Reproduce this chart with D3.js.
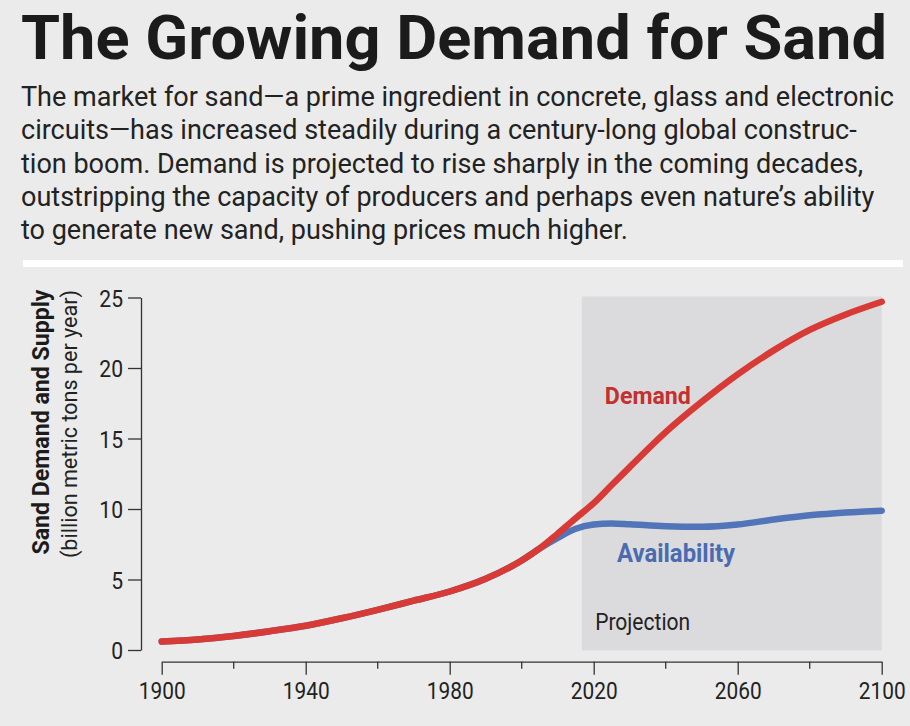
<!DOCTYPE html>
<html>
  <head>
    <meta charset="utf-8">
    <title>The Growing Demand for Sand</title>
    <script src="https://d3js.org/d3.v7.min.js"></script>
    <style>
      body { margin: 0; background: #ebebeb; }
      svg { display: block; font-family: Roboto, "Noto Sans", sans-serif; }
    </style>
  </head>
  <body>
    <div id="chart"></div>
    <script>
    // Values (billion metric tons per year)
    const years = [1900, 1910, 1920, 1930, 1940, 1950, 1960, 1970, 1980, 1990, 2000, 2005,
                   2010, 2015, 2020, 2025, 2030, 2040, 2050, 2060, 2070, 2080, 2090, 2100];
    const demand = [0.6, 0.75, 1.0, 1.33, 1.72, 2.25, 2.85, 3.5, 4.15, 5.05, 6.35, 7.2,
                    8.25, 9.35, 10.42, 11.7, 12.97, 15.45, 17.6, 19.55, 21.25, 22.7, 23.8, 24.7];
    const availability = [0.6, 0.75, 1.0, 1.33, 1.72, 2.25, 2.85, 3.5, 4.15, 5.05, 6.35, 7.2,
                          7.95, 8.6, 8.9, 8.98, 8.92, 8.78, 8.74, 8.9, 9.25, 9.55, 9.75, 9.88];
    const yTicks = [0, 5, 10, 15, 20, 25];
    const xMajorTicks = [1900, 1940, 1980, 2020, 2060, 2100];
    const xMinorTicks = [1920, 1960, 2000, 2040, 2080];
    const projectionStart = 2016.7;

    const titleText = "The Growing Demand for Sand";
    const introLines = [
      "The market for sand\u2014a prime ingredient in concrete, glass and electronic",
      "circuits\u2014has increased steadily during a century-long global construc-",
      "tion boom. Demand is projected to rise sharply in the coming decades,",
      "outstripping the capacity of producers and perhaps even nature\u2019s ability",
      "to generate new sand, pushing prices much higher."
    ];

    const W = 910, H = 726;
    const red = "#d83a35", blue = "#5274b9";

    const svg = d3.select("#chart").append("svg")
      .attr("width", W)
      .attr("height", H);

    svg.append("rect").attr("width", W).attr("height", H).attr("fill", "#ebebeb");

    // squeeze text horizontally to mimic the condensed face
    function squeeze(sel, k) {
      sel.each(function() {
        const n = this.getComputedTextLength();
        d3.select(this).attr("textLength", n * k).attr("lengthAdjust", "spacingAndGlyphs");
      });
    }

    // title: smaller face stretched upward, so its box stays inside the page
    svg.append("text")
      .attr("transform", "translate(21,58.5) scale(1,1.1)")
      .attr("font-size", 56)
      .attr("font-weight", 700)
      .attr("fill", "#1c1b1b")
      .attr("textLength", 866)
      .attr("lengthAdjust", "spacingAndGlyphs")
      .text(titleText);

    // intro text
    const intro = svg.append("g").attr("fill", "#222");
    intro.selectAll("text")
      .data(introLines)
      .join("text")
      .attr("x", 21)
      .attr("y", (d, i) => 106 + i * 33.3)
      .attr("font-size", 27)
      .text(d => d);
    const firstLen = intro.select("text").node().getComputedTextLength();
    squeeze(intro.selectAll("text"), 873 / firstLen);

    // white rule
    svg.append("rect")
      .attr("x", 23).attr("y", 260)
      .attr("width", 880).attr("height", 7)
      .attr("fill", "#ffffff");

    // scales
    const x = d3.scaleLinear().domain([1900, 2100]).range([161.7, 881.7]);
    const y = d3.scaleLinear().domain([0, 25]).range([650, 297.5]);

    // projection shade
    svg.append("rect")
      .attr("x", x(projectionStart))
      .attr("y", y(25) - 1)
      .attr("width", x(2100) - x(projectionStart))
      .attr("height", y(0) - y(25) + 1.5)
      .attr("fill", "#dbdbdd");

    // y axis
    const yAxis = svg.append("g")
      .attr("transform", "translate(141,0)")
      .call(d3.axisLeft(y).tickValues(yTicks).tickSize(13).tickSizeOuter(0).tickPadding(5));
    yAxis.select(".domain").attr("stroke", "#333").attr("stroke-width", 1.3);
    yAxis.selectAll(".tick line").attr("stroke", "#333").attr("stroke-width", 1.3);
    yAxis.selectAll(".tick text")
      .attr("font-size", 24.5)
      .attr("font-family", "Roboto, sans-serif")
      .attr("fill", "#222")
      .attr("dy", "0.36em");
    squeeze(yAxis.selectAll(".tick text"), 0.86);

    // x axis (labels drawn a bit smaller and stretched upward)
    const sy = 1.14;
    const xAxis = svg.append("g")
      .attr("transform", "translate(0,661.7)")
      .call(d3.axisBottom(x).tickValues(xMajorTicks).tickFormat(d3.format("d"))
        .tickSize(13).tickSizeOuter(0).tickPadding(7));
    xAxis.select(".domain").attr("stroke", "#333").attr("stroke-width", 1.3);
    xAxis.selectAll(".tick line").attr("stroke", "#333").attr("stroke-width", 1.3);
    xAxis.selectAll(".tick text")
      .attr("font-size", 21.5)
      .attr("font-family", "Roboto, sans-serif")
      .attr("fill", "#222")
      .attr("y", 20 / sy)
      .attr("transform", `scale(1,${sy})`);
    squeeze(xAxis.selectAll(".tick text"), 0.97);

    // minor x ticks
    svg.append("g")
      .attr("transform", "translate(0,661.7)")
      .selectAll("line")
      .data(xMinorTicks)
      .join("line")
      .attr("x1", d => x(d)).attr("x2", d => x(d))
      .attr("y1", 0).attr("y2", 7)
      .attr("stroke", "#333").attr("stroke-width", 1.3);

    // y axis title
    svg.append("text")
      .attr("transform", "translate(49,422) rotate(-90)")
      .attr("text-anchor", "middle")
      .attr("font-size", 23)
      .attr("font-weight", 700)
      .attr("fill", "#1c1b1b")
      .attr("textLength", 265)
      .attr("lengthAdjust", "spacingAndGlyphs")
      .text("Sand Demand and Supply");

    svg.append("text")
      .attr("transform", "translate(77,424) rotate(-90)")
      .attr("text-anchor", "middle")
      .attr("font-size", 22)
      .attr("fill", "#222")
      .attr("textLength", 268)
      .attr("lengthAdjust", "spacingAndGlyphs")
      .text("(billion metric tons per year)");

    // lines
    const line = d3.line()
      .x(d => x(d[0]))
      .y(d => y(d[1]))
      .curve(d3.curveMonotoneX);

    svg.append("path")
      .datum(years.map((yr, i) => [yr, availability[i]]))
      .attr("d", line)
      .attr("fill", "none")
      .attr("stroke", blue)
      .attr("stroke-width", 6.5)
      .attr("stroke-linecap", "round");

    svg.append("path")
      .datum(years.map((yr, i) => [yr, demand[i]]))
      .attr("d", line)
      .attr("fill", "none")
      .attr("stroke", red)
      .attr("stroke-width", 6.5)
      .attr("stroke-linecap", "round");

    // labels
    const demandLabel = svg.append("text")
      .attr("x", x(2023.1)).attr("y", y(17.45))
      .attr("font-size", 24)
      .attr("font-weight", 700)
      .attr("fill", "#c3302f")
      .text("Demand");
    squeeze(demandLabel, 86 / demandLabel.node().getComputedTextLength());

    const availLabel = svg.append("text")
      .attr("x", x(2026.5)).attr("y", y(6.26))
      .attr("font-size", 25)
      .attr("font-weight", 700)
      .attr("fill", "#4a6bb0")
      .text("Availability");
    squeeze(availLabel, 118 / availLabel.node().getComputedTextLength());

    const projLabel = svg.append("text")
      .attr("x", x(2020.4)).attr("y", y(1.42))
      .attr("font-size", 24.5)
      .attr("fill", "#222")
      .text("Projection");
    squeeze(projLabel, 95 / projLabel.node().getComputedTextLength());
    </script>
  </body>
</html>
